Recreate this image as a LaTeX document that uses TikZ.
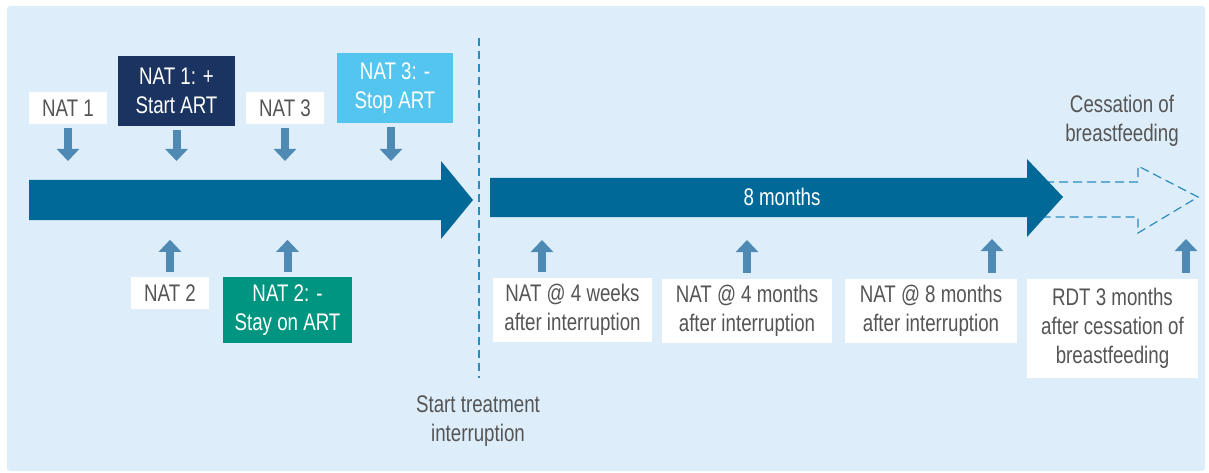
\documentclass[tikz,border=0pt]{standalone}
\usepackage{fontspec}
\setmainfont{Liberation Sans}[FakeStretch=0.78]
\usetikzlibrary{arrows.meta}
\definecolor{bgblue}{RGB}{221,238,250}
\definecolor{lineblue}{RGB}{0,105,152}
\definecolor{tickblue}{RGB}{79,138,181}
\definecolor{navybox}{RGB}{27,51,96}
\definecolor{cyanbox}{RGB}{84,197,238}
\definecolor{tealbox}{RGB}{0,149,128}
\definecolor{dashblue}{RGB}{42,139,192}
\definecolor{txtgray}{RGB}{85,85,85}

\begin{document}
\begin{tikzpicture}[x=1pt, y=-1pt,
	lbl/.style={font=\fontsize{24}{29}\selectfont, align=center, inner sep=0pt},
	whitebox/.style={lbl, fill=white, text=txtgray},
	colbox/.style={lbl, text=white},
	tick/.style={tickblue, line width=8pt, -{Triangle[width=22pt, length=12pt]}},
	divider/.style={dashblue, line width=1.3pt, dash pattern=on 8pt off 5pt}]
	\useasboundingbox (0,0) rectangle (1209,473);
	\fill[bgblue, rounded corners=3pt] (7,6) rectangle (1205,471);

	\coordinate (upper) at (0,161);
	\coordinate (t1) at (542,240);
	\coordinate (t2) at (747,240);
	\coordinate (t3) at (992,239);
	\coordinate (t4) at (1186,239);
	\coordinate (cut) at (479,38);

	\fill[lineblue] (29,180) -- (441,180) -- (441,161) -- (473,200) -- (441,239) -- (441,220) -- (29,220) -- cycle;
	\draw[divider, line width=1.2pt, dash pattern=on 9pt off 5pt] (1045,182) -- (1138,182) -- (1138,166) -- (1198,197) -- (1138,233) -- (1138,217) -- (1045,217);
	\fill[lineblue] (490,178) -- (1027,178) -- (1027,159) -- (1063,197) -- (1027,237) -- (1027,217) -- (490,217) -- cycle;
	\node[colbox] (dur) at (782,197) {8 months};

	\node[whitebox, minimum width=78pt, minimum height=32pt] (nat1) at (68,108) {NAT 1};
	\node[colbox, fill=navybox, minimum width=117pt, minimum height=70pt] (start) at (176.5,91) {NAT 1: +\\Start ART};
	\node[whitebox, minimum width=78pt, minimum height=32pt] (nat3) at (285,108) {NAT 3};
	\node[colbox, fill=cyanbox, minimum width=116pt, minimum height=70pt] (stop) at (395,88) {NAT 3: -\\Stop ART};
	\node[whitebox, minimum width=78pt, minimum height=32pt] (nat2) at (170,293) {NAT 2};
	\node[colbox, fill=tealbox, minimum width=129pt, minimum height=66pt] (stay) at (287.5,310) {NAT 2: -\\Stay on ART};

	\node[whitebox, minimum width=159pt, minimum height=64pt] (wk4) at (572.5,310) {NAT @ 4 weeks\\after interruption};
	\node[whitebox, minimum width=170pt, minimum height=64pt] (mo4) at (747,311) {NAT @ 4 months\\after interruption};
	\node[whitebox, minimum width=172pt, minimum height=64pt] (mo8) at (931,311) {NAT @ 8 months\\after interruption};
	\node[whitebox, minimum width=171pt, minimum height=99pt] (rdt) at (1112.5,328.5) {RDT 3 months\\after cessation of\\breastfeeding};

	\node[lbl, text=txtgray] (split) at (478,421) {Start treatment\\interruption};
	\node[lbl, text=txtgray] (wean) at (1122,121) {Cessation of\\breastfeeding};
	\draw[divider] (cut) -- (cut |- split.north) [shorten >=17pt];

	\draw[tick, shorten <=4pt] (nat1.south) -- (nat1.south |- upper);
	\draw[tick, shorten <=4pt] (start.south) -- (start.south |- upper);
	\draw[tick, shorten <=4pt] (nat3.south) -- (nat3.south |- upper);
	\draw[tick, shorten <=4pt] ([xshift=-4pt]stop.south) -- ([xshift=-4pt]stop.south |- upper);
	\draw[tick, shorten <=5pt] (nat2.north) -- ++(0,-37);
	\draw[tick, shorten <=5pt] (stay.north) -- ++(0,-37);
	\draw[tick, shorten <=6pt] (wk4.north -| t1) -- (t1);
	\draw[tick, shorten <=6pt] (mo4.north -| t2) -- (t2);
	\draw[tick, shorten <=6pt] (mo8.north -| t3) -- (t3);
	\draw[tick, shorten <=6pt] (rdt.north -| t4) -- (t4);
\end{tikzpicture}
\end{document}
